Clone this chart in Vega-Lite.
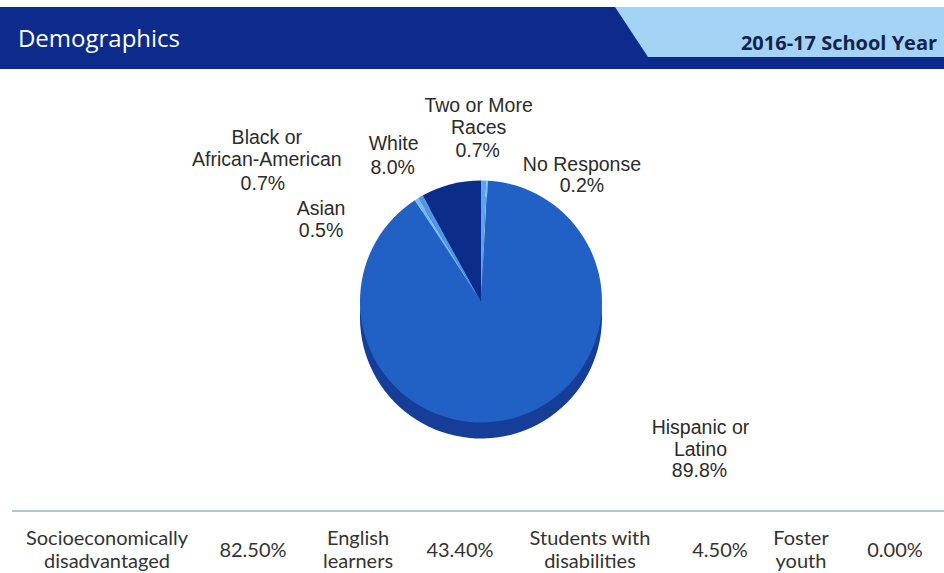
{
  "$schema": "https://vega.github.io/schema/vega-lite/v6.json",
  "background": "white",
  "padding": {"top": 7, "left": 0, "right": 0, "bottom": 0},
  "spacing": 0,
  "config": {"view": {"stroke": null}, "concat": {"spacing": 0}, "font": "Liberation Sans"},
  "datasets": {
    "races": [
      {"race": "Two or More Races", "label": "Two or More\nRaces", "pct": 0.007},
      {"race": "No Response", "label": "No Response", "pct": 0.002},
      {"race": "Hispanic or Latino", "label": "Hispanic or\nLatino", "pct": 0.898},
      {"race": "Asian", "label": "Asian", "pct": 0.005},
      {"race": "Black or African-American", "label": "Black or\nAfrican-American", "pct": 0.007},
      {"race": "White", "label": "White", "pct": 0.080}
    ],
    "stats": [
      {"group": "Socioeconomically disadvantaged", "label": "Socioeconomically\ndisadvantaged", "share": 0.825},
      {"group": "English learners", "label": "English\nlearners", "share": 0.434},
      {"group": "Students with disabilities", "label": "Students with\ndisabilities", "share": 0.045},
      {"group": "Foster youth", "label": "Foster\nyouth", "share": 0.0}
    ]
  },
  "vconcat": [
    {
      "spacing": 0,
      "hconcat": [
        {"width": 198, "height": 50, "view": {"fill": "#0d2b8c", "stroke": null},
         "data": {"values": [{"heading": "Demographics"}]},
         "mark": {"type": "text", "align": "center", "baseline": "middle", "dy": 8, "font": "Open Sans", "fontSize": 24, "color": "#ffffff"},
         "encoding": {"text": {"field": "heading", "type": "nominal"}}},
        {"width": 417, "height": 50, "view": {"fill": "#0d2b8c", "stroke": null},
         "data": {"values": []}, "mark": "point"},
        {"width": 33, "height": 50, "view": {"fill": "#a5d3f6", "stroke": null},
         "data": {"values": [{"part": "divider"}]},
         "mark": {"type": "point", "shape": "M-0.66,-1L0.66,1L-0.66,1Z", "size": 2500, "filled": true, "fill": "#0d2b8c", "opacity": 1, "strokeWidth": 0}},
        {"width": 86, "height": 50, "view": {"fill": "#a5d3f6", "stroke": null},
         "data": {"values": []}, "mark": "point"},
        {"width": 210, "height": 50, "view": {"fill": "#a5d3f6", "stroke": null},
         "data": {"values": [{"heading": "2016-17 School Year"}]},
         "mark": {"type": "text", "align": "center", "baseline": "middle", "dy": 12, "font": "Open Sans", "fontWeight": "bold", "fontSize": 20, "color": "#13234d"},
         "encoding": {"text": {"field": "heading", "type": "nominal"}}}
      ]
    },
    {"width": 944, "height": 12, "view": {"fill": "#0d2b8c", "stroke": null},
     "data": {"values": []}, "mark": "point"},
    {
      "width": 944, "height": 441,
      "data": {"name": "races"},
      "transform": [{"window": [{"op": "row_number", "as": "idx"}]}],
      "encoding": {
        "theta": {"field": "pct", "type": "quantitative", "stack": true},
        "order": {"field": "idx", "type": "quantitative"},
        "detail": {"field": "race", "type": "nominal"}
      },
      "layer": [
        {"mark": {"type": "arc", "outerRadius": 121, "xOffset": 9, "yOffset": 28, "fill": "#163d98"}},
        {"mark": {"type": "arc", "outerRadius": 121, "xOffset": 9, "yOffset": 12},
         "encoding": {"color": {"field": "race", "type": "nominal", "legend": null,
           "scale": {"domain": ["Two or More Races", "No Response", "Hispanic or Latino", "Asian", "Black or African-American", "White"],
                     "range": ["#5aa6f0", "#8cc6f7", "#2160c5", "#7ab9f4", "#4f97e6", "#0c2c8a"]}}}},
        {"mark": {"type": "text", "radius": 118, "dx": 4, "dy": -74.5, "align": "center", "baseline": "top", "lineBreak": "\n", "lineHeight": 22, "fontSize": 19.5, "color": "#2b2b2b"},
         "encoding": {"text": {"condition": {"test": "datum.race === 'Two or More Races'", "field": "label", "type": "nominal"}, "value": ""}}},
        {"mark": {"type": "text", "radius": 118, "dx": 3, "dy": -20.5, "align": "center", "baseline": "middle", "fontSize": 19.5, "color": "#2b2b2b"},
         "encoding": {"text": {"condition": {"test": "datum.race === 'Two or More Races'", "field": "pct", "type": "quantitative", "format": ".1%"}, "value": ""}}},
        {"mark": {"type": "text", "radius": 118, "dx": 104, "dy": -15.6, "align": "center", "baseline": "top", "lineBreak": "\n", "lineHeight": 22, "fontSize": 19.5, "color": "#2b2b2b"},
         "encoding": {"text": {"condition": {"test": "datum.race === 'No Response'", "field": "label", "type": "nominal"}, "value": ""}}},
        {"mark": {"type": "text", "radius": 118, "dx": 104, "dy": 14.4, "align": "center", "baseline": "middle", "fontSize": 19.5, "color": "#2b2b2b"},
         "encoding": {"text": {"condition": {"test": "datum.race === 'No Response'", "field": "pct", "type": "quantitative", "format": ".1%"}, "value": ""}}},
        {"mark": {"type": "text", "radius": 118, "dx": 198, "dy": 15.6, "align": "center", "baseline": "top", "lineBreak": "\n", "lineHeight": 22, "fontSize": 19.5, "color": "#2b2b2b"},
         "encoding": {"text": {"condition": {"test": "datum.race === 'Hispanic or Latino'", "field": "label", "type": "nominal"}, "value": ""}}},
        {"mark": {"type": "text", "radius": 118, "dx": 197, "dy": 67.6, "align": "center", "baseline": "middle", "fontSize": 19.5, "color": "#2b2b2b"},
         "encoding": {"text": {"condition": {"test": "datum.race === 'Hispanic or Latino'", "field": "pct", "type": "quantitative", "format": ".1%"}, "value": ""}}},
        {"mark": {"type": "text", "radius": 118, "dx": -88, "dy": 9.9, "align": "center", "baseline": "top", "lineBreak": "\n", "lineHeight": 22, "fontSize": 19.5, "color": "#2b2b2b"},
         "encoding": {"text": {"condition": {"test": "datum.race === 'Asian'", "field": "label", "type": "nominal"}, "value": ""}}},
        {"mark": {"type": "text", "radius": 118, "dx": -88, "dy": 40.9, "align": "center", "baseline": "middle", "fontSize": 19.5, "color": "#2b2b2b"},
         "encoding": {"text": {"condition": {"test": "datum.race === 'Asian'", "field": "pct", "type": "quantitative", "format": ".1%"}, "value": ""}}},
        {"mark": {"type": "text", "radius": 118, "dx": -146, "dy": -58.7, "align": "center", "baseline": "top", "lineBreak": "\n", "lineHeight": 22, "fontSize": 19.5, "color": "#2b2b2b"},
         "encoding": {"text": {"condition": {"test": "datum.race === 'Black or African-American'", "field": "label", "type": "nominal"}, "value": ""}}},
        {"mark": {"type": "text", "radius": 118, "dx": -150, "dy": -3.7, "align": "center", "baseline": "middle", "fontSize": 19.5, "color": "#2b2b2b"},
         "encoding": {"text": {"condition": {"test": "datum.race === 'Black or African-American'", "field": "pct", "type": "quantitative", "format": ".1%"}, "value": ""}}},
        {"mark": {"type": "text", "radius": 118, "dx": -49, "dy": -40.4, "align": "center", "baseline": "top", "lineBreak": "\n", "lineHeight": 22, "fontSize": 19.5, "color": "#2b2b2b"},
         "encoding": {"text": {"condition": {"test": "datum.race === 'White'", "field": "label", "type": "nominal"}, "value": ""}}},
        {"mark": {"type": "text", "radius": 118, "dx": -50, "dy": -7.4, "align": "center", "baseline": "middle", "fontSize": 19.5, "color": "#2b2b2b"},
         "encoding": {"text": {"condition": {"test": "datum.race === 'White'", "field": "pct", "type": "quantitative", "format": ".1%"}, "value": ""}}}
      ]
    },
    {
      "spacing": 0,
      "hconcat": [
        {"width": 12, "height": 2, "data": {"values": []}, "mark": "point"},
        {"width": 932, "height": 2, "view": {"fill": "#a9cbd6", "stroke": null}, "data": {"values": []}, "mark": "point"}
      ]
    },
    {
      "spacing": 0,
      "hconcat": [
        {"width": 214, "height": 61, "data": {"name": "stats"}, "transform": [{"filter": "datum.group === 'Socioeconomically disadvantaged'"}],
         "mark": {"type": "text", "align": "center", "baseline": "top", "dy": -14, "lineBreak": "\n", "lineHeight": 23, "font": "Lato", "fontSize": 20, "color": "#333333"},
         "encoding": {"text": {"field": "label", "type": "nominal"}}},
        {"width": 78, "height": 61, "data": {"name": "stats"}, "transform": [{"filter": "datum.group === 'Socioeconomically disadvantaged'"}],
         "mark": {"type": "text", "align": "center", "baseline": "middle", "dy": 8, "font": "Lato", "fontSize": 20, "color": "#333333"},
         "encoding": {"text": {"field": "share", "type": "quantitative", "format": ".2%"}}},
        {"width": 132, "height": 61, "data": {"name": "stats"}, "transform": [{"filter": "datum.group === 'English learners'"}],
         "mark": {"type": "text", "align": "center", "baseline": "top", "dy": -14, "lineBreak": "\n", "lineHeight": 23, "font": "Lato", "fontSize": 20, "color": "#333333"},
         "encoding": {"text": {"field": "label", "type": "nominal"}}},
        {"width": 72, "height": 61, "data": {"name": "stats"}, "transform": [{"filter": "datum.group === 'English learners'"}],
         "mark": {"type": "text", "align": "center", "baseline": "middle", "dy": 8, "font": "Lato", "fontSize": 20, "color": "#333333"},
         "encoding": {"text": {"field": "share", "type": "quantitative", "format": ".2%"}}},
        {"width": 188, "height": 61, "data": {"name": "stats"}, "transform": [{"filter": "datum.group === 'Students with disabilities'"}],
         "mark": {"type": "text", "align": "center", "baseline": "top", "dy": -14, "lineBreak": "\n", "lineHeight": 23, "font": "Lato", "fontSize": 20, "color": "#333333"},
         "encoding": {"text": {"field": "label", "type": "nominal"}}},
        {"width": 72, "height": 61, "data": {"name": "stats"}, "transform": [{"filter": "datum.group === 'Students with disabilities'"}],
         "mark": {"type": "text", "align": "center", "baseline": "middle", "dy": 8, "font": "Lato", "fontSize": 20, "color": "#333333"},
         "encoding": {"text": {"field": "share", "type": "quantitative", "format": ".2%"}}},
        {"width": 90, "height": 61, "data": {"name": "stats"}, "transform": [{"filter": "datum.group === 'Foster youth'"}],
         "mark": {"type": "text", "align": "center", "baseline": "top", "dy": -14, "lineBreak": "\n", "lineHeight": 23, "font": "Lato", "fontSize": 20, "color": "#333333"},
         "encoding": {"text": {"field": "label", "type": "nominal"}}},
        {"width": 98, "height": 61, "data": {"name": "stats"}, "transform": [{"filter": "datum.group === 'Foster youth'"}],
         "mark": {"type": "text", "align": "center", "baseline": "middle", "dy": 8, "font": "Lato", "fontSize": 20, "color": "#333333"},
         "encoding": {"text": {"field": "share", "type": "quantitative", "format": ".2%"}}}
      ]
    }
  ]
}
